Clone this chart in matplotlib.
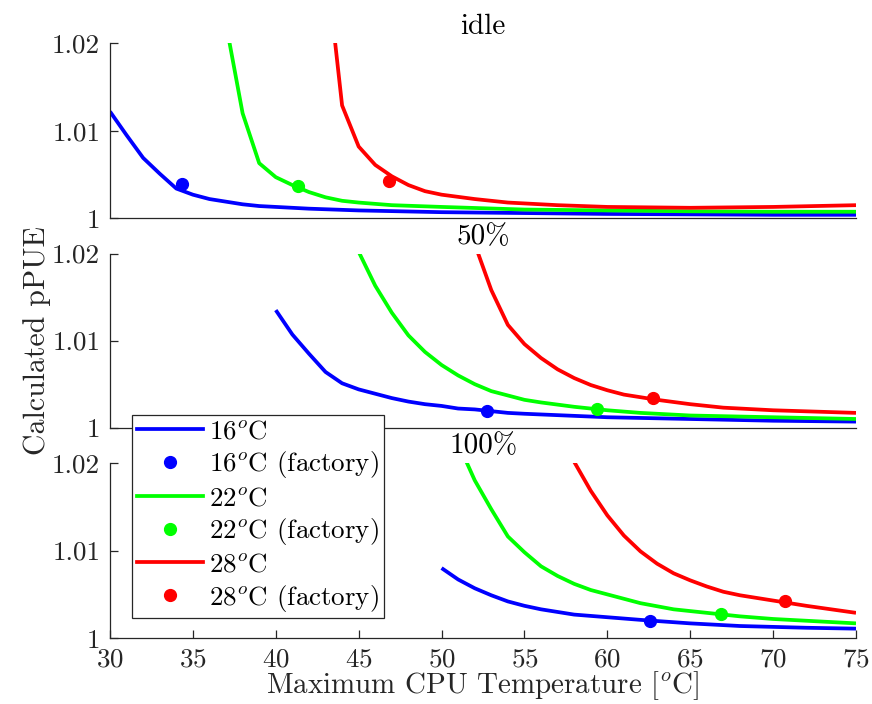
import matplotlib
matplotlib.use("Agg")
import matplotlib.pyplot as plt
from matplotlib.lines import Line2D

plt.rcParams['font.family'] = ['cmr10', 'DejaVu Serif']
plt.rcParams['mathtext.fontset'] = 'cm'
plt.rcParams['axes.formatter.use_mathtext'] = True
plt.rcParams['axes.unicode_minus'] = False

# ---------------- data ----------------
titles = ["idle", "50%", "100%"]
series_names = ["16$^o$C", "22$^o$C", "28$^o$C"]
colors = ["#0000ff", "#00ff00", "#ff0000"]

# idle
idle_16_x = [30, 31, 32, 33, 34, 35, 36, 37, 38, 39, 40, 42, 45, 50, 55, 60, 65, 70, 75]
idle_16_y = [1.0122, 1.0095, 1.0069, 1.0051, 1.0034, 1.0027, 1.0022, 1.0019, 1.0016, 1.0014,
             1.0013, 1.0011, 1.0009, 1.0007, 1.0006, 1.0005, 1.00045, 1.0004, 1.0004]
idle_22_x = [37, 38, 39, 40, 41, 42, 43, 44, 45, 47, 50, 55, 60, 65, 70, 75]
idle_22_y = [1.0222, 1.0120, 1.0063, 1.0047, 1.0038, 1.0030, 1.0024, 1.0020, 1.0018, 1.0015,
             1.0013, 1.0010, 1.0009, 1.0008, 1.00075, 1.00075]
idle_28_x = [43, 44, 45, 46, 47, 48, 49, 50, 52, 54, 57, 60, 65, 70, 75]
idle_28_y = [1.0300, 1.0129, 1.0082, 1.0061, 1.0048, 1.0038, 1.0031, 1.0027, 1.0022, 1.0018,
             1.0015, 1.0013, 1.0012, 1.0013, 1.0015]

# 50 %
half_16_x = [40, 41, 42, 43, 44, 45, 46, 47, 48, 49, 50, 51, 52, 54, 55, 60, 65, 70, 75]
half_16_y = [1.0135, 1.0107, 1.0085, 1.0064, 1.0051, 1.0044, 1.0039, 1.0034, 1.0030, 1.0027,
             1.0025, 1.0022, 1.0021, 1.0017, 1.0016, 1.0012, 1.0010, 1.0008, 1.0007]
half_22_x = [45, 46, 47, 48, 49, 50, 51, 52, 53, 54, 55, 56, 58, 60, 62, 65, 70, 75]
half_22_y = [1.0202, 1.0163, 1.0132, 1.0106, 1.0087, 1.0072, 1.0060, 1.0050, 1.0042, 1.0037,
             1.0032, 1.0029, 1.0024, 1.0020, 1.0017, 1.0014, 1.0012, 1.0010]
half_28_x = [52, 53, 54, 55, 56, 57, 58, 59, 60, 61, 62, 63, 65, 67, 70, 75]
half_28_y = [1.0211, 1.0158, 1.0118, 1.0096, 1.0080, 1.0067, 1.0057, 1.0049, 1.0043, 1.0038,
             1.0035, 1.0032, 1.0027, 1.0023, 1.0020, 1.0017]

# 100 %
full_16_x = [50, 51, 52, 53, 54, 55, 56, 57, 58, 60, 62, 65, 68, 72, 75]
full_16_y = [1.0080, 1.0067, 1.0057, 1.0049, 1.0042, 1.0037, 1.0033, 1.0030, 1.0027, 1.0024,
             1.0021, 1.0017, 1.0014, 1.0012, 1.0011]
full_22_x = [51, 52, 53, 54, 55, 56, 57, 58, 59, 60, 62, 64, 66, 68, 70, 72, 75]
full_22_y = [1.0222, 1.0180, 1.0147, 1.0116, 1.0098, 1.0082, 1.0071, 1.0062, 1.0055, 1.0050,
             1.0040, 1.0033, 1.0029, 1.0025, 1.0022, 1.0020, 1.0017]
full_28_x = [58, 59, 60, 61, 62, 63, 64, 65, 66, 67, 68, 70, 72, 75]
full_28_y = [1.0201, 1.0168, 1.0140, 1.0117, 1.0099, 1.0085, 1.0074, 1.0066, 1.0059, 1.0053,
             1.0049, 1.0043, 1.0037, 1.0029]

# factory operating points (x, y) per load, per inlet temperature
factory_x = [[34.34, 41.34, 46.85], [52.72, 59.36, 62.77], [62.6, 66.84, 70.72]]
factory_y = [[1.0039, 1.0037, 1.0043], [1.00195, 1.0021, 1.0034], [1.0020, 1.0028, 1.0042]]

curves = [
    [(idle_16_x, idle_16_y), (idle_22_x, idle_22_y), (idle_28_x, idle_28_y)],
    [(half_16_x, half_16_y), (half_22_x, half_22_y), (half_28_x, half_28_y)],
    [(full_16_x, full_16_y), (full_22_x, full_22_y), (full_28_x, full_28_y)],
]

xticks = [30, 35, 40, 45, 50, 55, 60, 65, 70, 75]
yticks = [1.0, 1.01, 1.02]
ytick_labels = ["1", "1.01", "1.02"]

# ---------------- figure ----------------
W, H = 872, 704
fig = plt.figure(figsize=(W / 100, H / 100), dpi=100)

ax_px = [(43.3, 218.3), (253.5, 427.7), (462.7, 638.3)]  # (top, bottom) pixel rows
left_px, right_px = 110, 856
axcol = "#262626"
fs = 19.5
fs_lab = 21.5

axes = []
for i, (top, bot) in enumerate(ax_px):
    ax = fig.add_axes([left_px / W, 1 - bot / H, (right_px - left_px) / W, (bot - top) / H])
    axes.append(ax)
    for j in range(3):
        xs, ys = curves[i][j]
        ax.plot(xs, ys, color=colors[j], lw=2.7, solid_capstyle='butt', zorder=2)
        ax.plot(factory_x[i][j], factory_y[i][j], 'o', color=colors[j], ms=8.5, zorder=3)
    ax.set_xlim(30, 75)
    ax.set_ylim(1.0, 1.02)
    ax.set_yticks(yticks)
    ax.set_yticklabels(ytick_labels)
    ax.spines['top'].set_visible(False)
    ax.spines['right'].set_visible(False)
    for s in ('left', 'bottom'):
        ax.spines[s].set_color(axcol)
        ax.spines[s].set_linewidth(0.9)
    ax.tick_params(axis='both', direction='in', length=5.5, width=0.9, color=axcol,
                   labelcolor=axcol, labelsize=fs, pad=7)
    ax.set_title(titles[i], fontsize=fs_lab - 0.5, pad=7, color='black')
    if i < 2:
        ax.set_xticks([])
    else:
        ax.set_xticks(xticks)
        ax.set_xlabel("Maximum CPU Temperature [$^o$C]", fontsize=20.9, labelpad=-1.5, color=axcol)

axes[1].set_ylabel("Calculated pPUE", fontsize=fs_lab, color=axcol, labelpad=1)

# legend
handles = []
labels = []
for j in range(3):
    handles.append(Line2D([], [], color=colors[j], lw=2.7))
    labels.append(series_names[j])
    handles.append(Line2D([], [], color=colors[j], marker='o', ls='none', ms=8.5))
    labels.append(series_names[j] + " (factory)")

leg = fig.legend(handles, labels, loc='upper left',
                 bbox_to_anchor=(132 / W, 1 - 415 / H), fontsize=19.4,
                 frameon=True, fancybox=False, framealpha=1, edgecolor=axcol,
                 handlelength=2.47, handletextpad=0.22, borderpad=0.17, labelspacing=0.22,
                 borderaxespad=0)
leg.get_frame().set_linewidth(0.9)

fig.savefig("out.png", dpi=100)
